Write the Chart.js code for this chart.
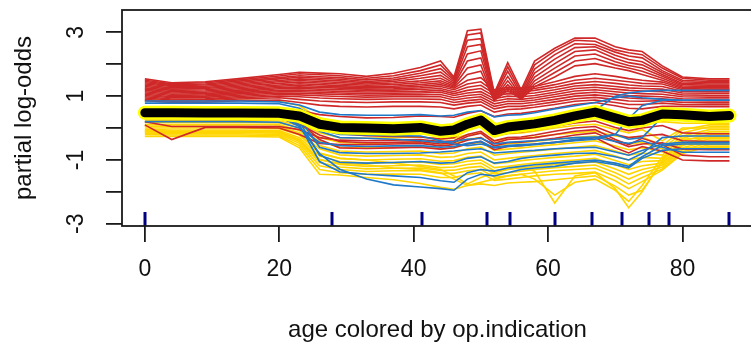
<!DOCTYPE html>
<html>
<head>
<meta charset="utf-8">
<script src="https://cdn.jsdelivr.net/npm/chart.js@4/dist/chart.umd.min.js"></script>
<style>
  html, body { margin: 0; padding: 0; background: #fff; overflow: hidden; }
  #wrap { width: 760px; height: 346px; }
</style>
</head>
<body>
<div id="wrap"><canvas id="ice" width="760" height="346"></canvas></div>
<script>
// ages where every ICE curve is evaluated
var ages = [0, 4, 9, 14, 20, 23, 26, 29, 33, 37, 41, 44, 46, 48, 50, 52, 54, 56, 58, 61, 64, 67, 70, 72, 74, 77, 80, 84, 87]

// partial dependence (mean of the curves), drawn thick
var pdp = [0.48, 0.48, 0.47, 0.47, 0.46, 0.38, 0.12, 0.02, 0.00, -0.02, 0.02, -0.10, -0.06, 0.12, 0.25, -0.08, 0.03, 0.08, 0.13, 0.24, 0.38, 0.50, 0.32, 0.20, 0.24, 0.44, 0.42, 0.36, 0.39]

// deciles of age for the rug
var rugAges = [0, 27.9, 41.2, 50.9, 54.4, 61.0, 66.6, 71.0, 75.0, 78.0, 87.0]

var xTicks = [0, 20, 40, 60, 80]
var yTicks = [-3, -2, -1, 0, 1, 2, 3]

// op.indication group 1
var redCurves = [
  [1.54,1.42,1.45,1.55,1.68,1.75,1.72,1.70,1.62,1.72,1.90,2.10,1.60,3.05,3.10,1.10,2.05,1.20,2.10,2.50,2.82,2.82,2.55,2.45,2.40,1.95,1.60,1.54,1.54],
  [1.50,1.39,1.42,1.51,1.63,1.70,1.67,1.64,1.56,1.64,1.80,1.98,1.55,2.92,2.98,1.05,1.92,1.12,1.98,2.42,2.75,2.72,2.45,2.36,2.30,1.88,1.56,1.50,1.50],
  [1.46,1.36,1.38,1.47,1.58,1.64,1.61,1.58,1.51,1.57,1.72,1.86,1.50,2.75,2.80,1.00,1.78,1.05,1.85,2.30,2.64,2.62,2.38,2.26,2.20,1.80,1.50,1.46,1.46],
  [1.42,1.33,1.35,1.43,1.54,1.59,1.56,1.53,1.46,1.51,1.64,1.75,1.45,2.55,2.62,0.95,1.62,1.00,1.72,2.16,2.52,2.55,2.28,2.15,2.08,1.74,1.45,1.42,1.42],
  [1.38,1.30,1.31,1.39,1.49,1.54,1.51,1.48,1.42,1.46,1.56,1.65,1.40,2.32,2.42,0.92,1.48,0.96,1.60,2.02,2.40,2.45,2.18,2.05,1.98,1.68,1.40,1.38,1.38],
  [1.34,1.26,1.27,1.35,1.45,1.49,1.46,1.43,1.38,1.41,1.48,1.56,1.36,2.10,2.20,0.90,1.36,0.94,1.48,1.88,2.26,2.32,2.08,1.96,1.88,1.62,1.36,1.34,1.34],
  [1.30,1.22,1.24,1.31,1.40,1.44,1.41,1.38,1.34,1.36,1.42,1.48,1.32,1.88,1.98,0.88,1.26,0.92,1.38,1.74,2.10,2.18,1.98,1.88,1.78,1.56,1.32,1.30,1.30],
  [1.26,1.18,1.20,1.27,1.35,1.39,1.36,1.33,1.30,1.31,1.36,1.42,1.28,1.68,1.78,0.86,1.18,0.90,1.30,1.60,1.95,2.02,1.88,1.80,1.68,1.50,1.28,1.26,1.26],
  [1.22,1.14,1.16,1.23,1.31,1.34,1.31,1.29,1.26,1.27,1.31,1.36,1.25,1.50,1.58,1.20,1.28,1.25,1.30,1.45,1.62,1.70,1.62,1.55,1.50,1.44,1.24,1.22,1.22],
  [1.18,1.10,1.12,1.19,1.27,1.29,1.27,1.25,1.22,1.23,1.26,1.30,1.20,1.38,1.45,1.15,1.22,1.20,1.24,1.36,1.50,1.56,1.50,1.45,1.40,1.38,1.20,1.18,1.18],
  [1.14,1.06,1.08,1.15,1.23,1.24,1.22,1.20,1.18,1.19,1.21,1.24,1.14,1.28,1.34,1.08,1.15,1.13,1.18,1.28,1.40,1.46,1.40,1.35,1.32,1.30,1.15,1.14,1.14],
  [1.10,1.02,1.04,1.11,1.18,1.19,1.17,1.15,1.13,1.14,1.15,1.18,1.08,1.18,1.24,1.00,1.08,1.06,1.10,1.20,1.32,1.36,1.30,1.26,1.24,1.22,1.10,1.09,1.09],
  [1.06,0.98,1.00,1.07,1.14,1.14,1.12,1.10,1.08,1.09,1.10,1.12,1.02,1.10,1.14,0.92,1.00,0.98,1.02,1.12,1.24,1.28,1.22,1.18,1.16,1.14,1.04,1.03,1.03],
  [1.02,0.95,0.96,1.03,1.10,1.09,1.07,1.05,1.03,1.04,1.04,1.05,0.95,1.02,1.06,0.84,0.92,0.90,0.95,1.05,1.16,1.20,1.14,1.10,1.08,1.06,0.98,0.97,0.97],
  [0.98,0.91,0.92,0.99,1.05,1.04,1.01,0.99,0.97,0.98,0.98,0.98,0.88,0.94,0.98,0.76,0.84,0.83,0.88,0.98,1.08,1.12,1.06,1.02,1.00,0.98,0.92,0.91,0.91],
  [0.94,0.88,0.89,0.95,1.00,0.98,0.94,0.92,0.90,0.91,0.91,0.90,0.80,0.86,0.90,0.68,0.76,0.76,0.81,0.90,1.00,1.04,0.98,0.94,0.92,0.92,0.86,0.85,0.85],
  [0.90,0.84,0.85,0.91,0.95,0.90,0.85,0.82,0.80,0.82,0.82,0.80,0.72,0.78,0.82,0.60,0.68,0.68,0.73,0.82,0.92,0.96,0.90,0.85,0.84,0.86,0.80,0.79,0.79],
  [0.86,0.80,0.81,0.86,0.88,0.80,0.72,0.68,0.66,0.68,0.68,0.66,0.60,0.68,0.72,0.50,0.58,0.60,0.65,0.74,0.84,0.88,0.80,0.74,0.74,0.78,0.74,0.73,0.73],
  [0.62,0.62,0.62,0.62,0.62,0.55,0.42,0.36,0.32,0.33,0.38,0.36,0.34,0.46,0.54,0.36,0.44,0.46,0.52,0.62,0.74,0.80,0.70,0.62,0.60,0.68,0.68,0.67,0.67],
  [0.20,0.05,0.05,0.05,0.05,-0.05,-0.30,-0.38,-0.40,-0.38,-0.36,-0.42,-0.40,-0.20,-0.10,-0.40,-0.30,-0.28,-0.22,-0.10,0.00,0.05,-0.20,-0.30,-0.25,-0.20,-0.40,-0.42,-0.42],
  [0.10,-0.36,0.02,0.02,0.00,-0.20,-0.48,-0.52,-0.52,-0.50,-0.48,-0.56,-0.52,-0.38,-0.30,-0.56,-0.46,-0.44,-0.40,-0.32,-0.22,-0.15,-0.42,-0.58,-0.50,-0.46,-0.66,-0.68,-0.68],
  [0.55,0.55,0.55,0.55,0.55,0.42,0.08,-0.18,-0.24,-0.26,-0.28,-0.34,-0.30,-0.02,0.08,-0.26,-0.16,-0.12,-0.06,0.06,0.16,0.22,0.02,-0.08,0.00,0.08,-0.15,-0.18,-0.18],
  [0.30,0.30,0.30,0.30,0.30,0.12,-0.22,-0.42,-0.46,-0.45,-0.43,-0.50,-0.46,-0.26,-0.16,-0.48,-0.36,-0.33,-0.30,-0.20,-0.10,-0.05,-0.36,-0.52,-0.32,-0.52,-0.85,-0.90,-0.90],
  [0.40,0.40,0.40,0.40,0.40,0.20,-0.36,-0.62,-0.64,-0.62,-0.60,-0.66,-0.62,-0.50,-0.42,-0.68,-0.58,-0.55,-0.50,-0.45,-0.38,-0.30,-0.62,-0.78,-0.58,-0.72,-1.00,-1.03,-1.03]
]

// op.indication group 2
var blueCurves = [
  [0.78,0.78,0.78,0.78,0.76,0.62,0.25,0.05,0.02,0.00,0.02,-0.05,-0.02,0.10,0.18,-0.05,0.02,0.05,0.10,0.25,0.40,0.55,1.00,1.10,1.15,1.18,1.18,1.18,1.18],
  [0.20,0.20,0.20,0.20,0.18,0.00,-0.45,-0.55,-0.58,-0.56,-0.55,-0.60,-0.58,-0.48,-0.42,-0.62,-0.58,-0.55,-0.52,-0.45,-0.40,-0.35,-0.20,0.30,0.70,0.87,0.87,0.87,0.87],
  [0.60,0.60,0.60,0.60,0.58,0.40,-0.10,-0.30,-0.32,-0.35,-0.40,-0.45,-0.42,-0.35,-0.32,-0.50,-0.45,-0.42,-0.40,-0.35,-0.30,-0.28,-0.42,-0.48,-0.40,-0.60,-0.76,-0.76,-0.76],
  [0.56,0.56,0.56,0.56,0.54,0.30,-0.60,-0.77,-0.80,-0.80,-0.78,-0.75,-0.72,-0.68,-0.65,-0.78,-0.75,-0.72,-0.70,-0.65,-0.62,-0.60,-0.75,-0.85,-0.70,-0.50,-0.45,-0.45,-0.45],
  [0.50,0.50,0.50,0.50,0.48,0.20,-0.85,-1.07,-1.10,-1.08,-1.05,-1.10,-1.08,-0.95,-0.90,-1.10,-1.05,-0.95,-0.90,-0.85,-0.80,-0.78,-0.90,-1.00,-0.80,-0.30,-0.25,-0.25,-0.25],
  [0.44,0.44,0.44,0.44,0.42,0.10,-1.05,-1.37,-1.45,-1.50,-1.55,-1.65,-1.70,-1.40,-1.30,-1.35,-1.25,-1.20,-1.15,-1.10,-1.05,-1.00,-1.10,-1.20,-0.90,-0.55,-0.50,-0.50,-0.50],
  [0.38,0.38,0.38,0.38,0.36,0.05,-0.80,-1.29,-1.60,-1.78,-1.85,-1.90,-1.95,-1.60,-1.45,-1.50,-1.40,-1.30,-1.25,-1.20,-1.10,-1.05,-1.15,-1.25,-0.95,-0.70,-0.65,-0.65,-0.65],
  [0.40,0.40,0.40,0.40,0.38,0.25,-0.05,-0.20,-0.22,-0.24,-0.25,-0.40,-0.50,-0.55,-0.50,-0.60,-0.55,-0.52,-0.50,-0.45,-0.35,-0.30,-0.20,-0.35,-0.30,0.35,0.40,0.40,0.40],
  [0.85,0.85,0.85,0.85,0.82,0.72,0.50,0.42,0.40,0.40,0.42,0.38,0.40,0.50,0.55,0.35,0.40,0.42,0.48,0.60,0.70,0.80,0.95,1.00,0.95,0.90,0.87,0.87,0.87]
]

// op.indication group 3
var yellowCurves = [
  [0.30,0.30,0.30,0.30,0.28,0.15,-0.15,-0.30,-0.32,-0.30,-0.28,-0.35,-0.32,-0.20,-0.15,-0.40,-0.35,-0.32,-0.28,-0.20,-0.15,-0.10,-0.25,-0.30,-0.28,-0.55,-0.05,0.10,0.10],
  [0.24,0.24,0.24,0.24,0.22,0.08,-0.30,-0.45,-0.48,-0.46,-0.44,-0.50,-0.48,-0.35,-0.30,-0.55,-0.50,-0.46,-0.42,-0.35,-0.30,-0.25,-0.40,-0.50,-0.45,-0.65,-0.15,0.04,0.04],
  [0.18,0.18,0.18,0.18,0.16,0.00,-0.42,-0.60,-0.62,-0.60,-0.58,-0.65,-0.62,-0.50,-0.45,-0.70,-0.66,-0.62,-0.58,-0.52,-0.46,-0.40,-0.56,-0.68,-0.62,-0.75,-0.25,-0.05,-0.05],
  [0.12,0.12,0.12,0.12,0.10,-0.08,-0.55,-0.72,-0.75,-0.74,-0.72,-0.80,-0.78,-0.65,-0.60,-0.85,-0.80,-0.76,-0.72,-0.66,-0.60,-0.55,-0.72,-0.85,-0.78,-0.85,-0.32,-0.12,-0.12],
  [0.06,0.06,0.06,0.06,0.04,-0.15,-0.65,-0.84,-0.88,-0.86,-0.84,-0.92,-0.90,-0.80,-0.75,-1.00,-0.95,-0.90,-0.86,-0.80,-0.75,-0.70,-0.88,-1.00,-0.92,-0.95,-0.40,-0.20,-0.20],
  [0.00,0.00,0.00,0.00,-0.02,-0.22,-0.78,-0.95,-1.00,-0.98,-0.96,-1.04,-1.02,-0.92,-0.88,-1.12,-1.08,-1.02,-0.98,-0.92,-0.88,-0.82,-1.02,-1.15,-1.05,-1.02,-0.48,-0.28,-0.28],
  [-0.04,-0.06,-0.06,-0.06,-0.08,-0.30,-0.88,-1.05,-1.10,-1.08,-1.06,-1.14,-1.12,-1.04,-1.00,-1.24,-1.20,-1.14,-1.10,-1.04,-1.00,-0.95,-1.15,-1.30,-1.18,-1.10,-0.55,-0.34,-0.34],
  [-0.08,-0.10,-0.10,-0.10,-0.12,-0.36,-0.98,-1.14,-1.20,-1.18,-1.16,-1.24,-1.22,-1.14,-1.10,-1.34,-1.30,-1.25,-1.20,-1.14,-1.10,-1.06,-1.28,-1.45,-1.30,-1.16,-0.62,-0.40,-0.40],
  [-0.12,-0.14,-0.14,-0.14,-0.16,-0.42,-1.08,-1.22,-1.28,-1.26,-1.25,-1.33,-1.32,-1.24,-1.20,-1.44,-1.40,-1.35,-1.30,-1.24,-1.20,-1.16,-1.40,-1.60,-1.42,-1.22,-0.68,-0.46,-0.46],
  [-0.16,-0.18,-0.18,-0.18,-0.20,-0.48,-1.18,-1.30,-1.36,-1.34,-1.34,-1.42,-1.42,-1.34,-1.30,-1.54,-1.50,-1.45,-1.40,-1.34,-1.30,-1.26,-1.52,-1.75,-1.55,-1.28,-0.74,-0.52,-0.52],
  [-0.20,-0.22,-0.22,-0.22,-0.24,-0.55,-1.30,-1.40,-1.45,-1.44,-1.45,-1.55,-1.55,-1.45,-1.40,-1.64,-1.60,-1.55,-1.50,-1.45,-1.42,-1.38,-1.65,-1.90,-1.68,-1.32,-0.80,-0.57,-0.57],
  [-0.26,-0.26,-0.26,-0.26,-0.28,-0.62,-1.45,-1.47,-1.55,-1.62,-1.74,-1.86,-1.92,-1.80,-1.75,-1.80,-1.72,-1.70,-1.68,-1.62,-1.56,-1.50,-1.82,-2.10,-1.95,-1.07,-0.62,-0.62,-0.62],
  [0.05,0.05,0.05,0.05,0.03,-0.20,-0.80,-0.95,-1.00,-1.10,-1.20,-1.30,-1.50,-1.75,-1.55,-1.40,-1.30,-1.20,-1.35,-2.35,-1.50,-1.40,-1.90,-2.50,-2.00,-1.00,-0.35,-0.30,-0.30],
  [-0.10,-0.10,-0.10,-0.10,-0.12,-0.40,-1.00,-1.10,-1.15,-1.25,-1.30,-1.40,-1.60,-1.80,-1.70,-1.60,-1.50,-1.45,-1.60,-2.10,-1.70,-1.60,-1.95,-2.30,-1.80,-0.90,-0.50,-0.50,-0.50],
  [0.38,0.38,0.38,0.38,0.36,0.25,0.00,-0.15,-0.18,-0.18,-0.16,-0.22,-0.20,-0.05,0.05,-0.25,-0.18,-0.15,-0.10,0.00,0.08,0.12,-0.05,-0.15,-0.05,-0.40,0.00,0.00,0.00],
  [0.87,0.87,0.87,0.87,0.85,0.70,0.30,0.10,0.05,0.04,0.06,0.00,0.02,0.15,0.25,0.00,0.08,0.10,0.15,0.25,0.32,0.38,0.15,0.05,0.15,0.20,0.15,0.15,0.15]
]

var redColor = "#cf2828"
var blueColor = "#1f78c8"
var yellowColor = "#ffd500"
var font = "'Liberation Sans', Arial, sans-serif"

function toPoints(vals) {
  return ages.map(function (a, i) { return { x: a, y: vals[i] } })
}

function iceSets(curves, color) {
  return curves.map(function (c) {
    return { data: toPoints(c), borderColor: color, borderWidth: 1.6, pointRadius: 0, fill: false }
  })
}

// pdp first so it sits on top, then blue, red, yellow underneath
var datasets = [
  { data: toPoints(pdp), borderColor: "#000", borderWidth: 9, pointRadius: 0, borderCapStyle: "round", borderJoinStyle: "round" },
  { data: toPoints(pdp), borderColor: "#ffff00", borderWidth: 14, pointRadius: 0, borderCapStyle: "round", borderJoinStyle: "round" }
].concat(iceSets(blueCurves, blueColor), iceSets(redCurves, redColor), iceSets(yellowCurves, yellowColor))

// frame round the plot region + rug of age deciles
var boxAndRug = {
  id: "boxAndRug",
  afterDraw: function (chart) {
    var ctx = chart.ctx
    var a = chart.chartArea
    var xs = chart.scales.x
    ctx.save()
    ctx.strokeStyle = "#000080"
    ctx.lineWidth = 3
    rugAges.forEach(function (v) {
      var px = Math.round(xs.getPixelForValue(v))
      ctx.beginPath()
      ctx.moveTo(px, a.bottom)
      ctx.lineTo(px, a.bottom - 14)
      ctx.stroke()
    })
    ctx.strokeStyle = "#1a1a1a"
    ctx.lineWidth = 1.8
    ctx.strokeRect(a.left, a.top, a.right - a.left, a.bottom - a.top)
    ctx.restore()
  }
}

// keep the plot region fixed, no extra room for edge labels
function noPad(s) {
  s.paddingLeft = 0
  s.paddingRight = 0
  s.paddingTop = 0
  s.paddingBottom = 0
}

var chart = new Chart(document.getElementById("ice"), {
  type: "line",
  data: { datasets: datasets },
  plugins: [boxAndRug],
  options: {
    responsive: false,
    animation: false,
    devicePixelRatio: 1,
    layout: { padding: { top: 10, right: 7, left: 0, bottom: 0 } },
    plugins: { legend: { display: false }, tooltip: { enabled: false } },
    elements: { line: { tension: 0 } },
    scales: {
      x: {
        type: "linear",
        min: -3.4,
        max: 90.5,
        afterBuildTicks: function (s) { s.ticks = xTicks.map(function (v) { return { value: v } }) },
        afterFit: function (s) { s.height = 120; noPad(s) },
        border: { display: false },
        grid: { drawOnChartArea: false, drawTicks: true, tickLength: 16, color: "#1a1a1a", lineWidth: 1.8 },
        ticks: { autoSkip: false, maxRotation: 0, padding: 14, color: "#111", font: { family: font, size: 23 } },
        title: { display: true, text: "age colored by op.indication", color: "#111", font: { family: font, size: 24 }, padding: { top: 0, bottom: 1 } }
      },
      y: {
        type: "linear",
        min: -3.07,
        max: 3.7,
        afterBuildTicks: function (s) { s.ticks = yTicks.map(function (v) { return { value: v } }) },
        afterFit: function (s) { s.width = 122; noPad(s) },
        border: { display: false },
        grid: { drawOnChartArea: false, drawTicks: true, tickLength: 16, color: "#1a1a1a", lineWidth: 1.8 },
        ticks: {
          callback: function (v) { return v % 2 !== 0 ? String(v) : "" },
          minRotation: 90,
          maxRotation: 90,
          crossAlign: "center",
          padding: 19,
          color: "#111",
          font: { family: font, size: 23 }
        },
        title: { display: true, text: "partial log-odds", color: "#111", font: { family: font, size: 24 }, padding: { top: 10, bottom: 0 } }
      }
    }
  }
})
</script>
</body>
</html>
